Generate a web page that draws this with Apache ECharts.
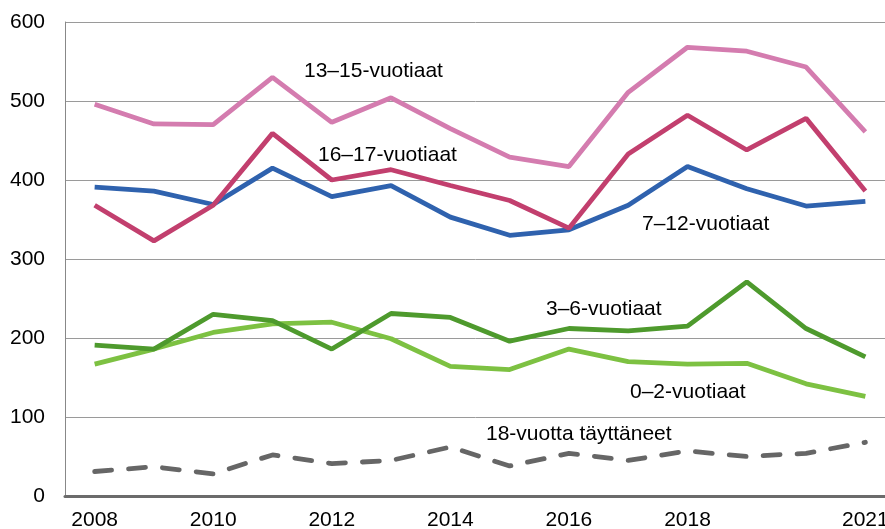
<!DOCTYPE html>
<html><head><meta charset="utf-8">
<script src="https://cdn.jsdelivr.net/npm/echarts@6/dist/echarts.min.js"></script>
<style>html,body{margin:0;padding:0;background:#fff}#c{width:885px;height:529px}</style>
</head><body><div id="c"></div>
<script>
const years = ['2008','2009','2010','2011','2012','2013','2014','2015','2016','2017','2018','2019','2020','2021'];
const yTicks = [0,100,200,300,400,500,600];
const s13_15 = [496,471,470,530,473,504,465,429,417,511,568,563,543,461];
const s16_17 = [368,323,368,459,400,413,393,374,339,433,482,438,478,386];
const s7_12 = [391,386,369,415,379,393,353,330,337,368,417,389,367,373];
const s3_6 = [191,186,230,222,186,231,226,196,212,209,215,271,212,176];
const s0_2 = [167,186,207,218,220,199,164,160,186,170,167,168,142,126];
const s18 = [31,37,28,52,41,45,62,38,54,45,57,50,54,68];
const names = ['13–15-vuotiaat','16–17-vuotiaat','7–12-vuotiaat','3–6-vuotiaat','0–2-vuotiaat','18-vuotta täyttäneet'];

const chart = echarts.init(document.getElementById('c'));
const font = 'Liberation Sans, Arial, sans-serif';
function line(name, data, color, dashed) {
  return {
    name, type: 'line', data, symbol: 'none', smooth: false, animation: false,
    lineStyle: { color, width: 4.8, type: dashed ? [17,17] : 'solid', cap: dashed ? 'round' : 'butt' },
    z: dashed ? 1 : 2
  };
}
const txt = (x, y, t) => ({ type: 'text', left: x, top: y, style: { text: t, font: '21px ' + font, fill: '#000' } });
chart.setOption({
  animation: false,
  grid: { left: 65, top: 22, width: 830, height: 474, containLabel: false, outerBoundsMode: 'none' },
  xAxis: {
    type: 'category', data: years, boundaryGap: true,
    axisLine: { show: true, lineStyle: { color: '#6b6b6b', width: 3 } },
    axisTick: { show: false },
    axisLabel: {
      interval: (i) => (i % 2 === 0 && i < 12) || i === 13,
      color: '#000', fontSize: 21, fontFamily: font, margin: 14
    },
    splitLine: { show: false }
  },
  yAxis: {
    type: 'value', min: yTicks[0], max: yTicks[yTicks.length - 1], interval: 100,
    axisLine: { show: true, lineStyle: { color: '#888', width: 1 } },
    axisTick: { show: false },
    axisLabel: { color: '#000', fontSize: 21, fontFamily: font, margin: 20 },
    splitLine: { show: true, lineStyle: { color: '#9a9a9a', width: 1 } }
  },
  series: [
    line(names[5], s18, '#666666', true),
    line(names[4], s0_2, '#7dc142', false),
    line(names[3], s3_6, '#4e9a2d', false),
    line(names[2], s7_12, '#2f62ae', false),
    line(names[1], s16_17, '#c23f6e', false),
    line(names[0], s13_15, '#d47caf', false)
  ],
  graphic: [
    txt(304, 61, names[0]),
    txt(318, 145, names[1]),
    txt(642, 214, names[2]),
    txt(546, 299, names[3]),
    txt(630, 382, names[4]),
    txt(486, 424, names[5])
  ]
});
</script></body></html>
